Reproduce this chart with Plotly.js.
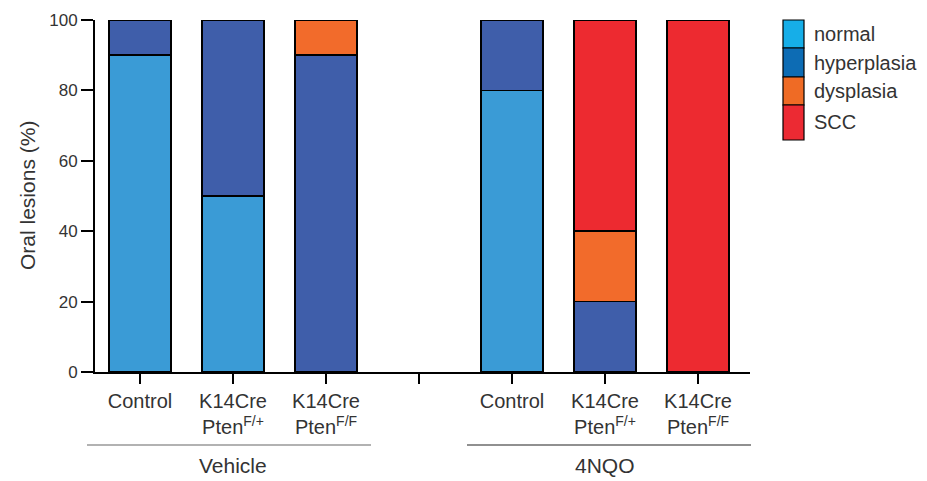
<!DOCTYPE html>
<html>
<head>
<meta charset="utf-8">
<script src="https://cdn.plot.ly/plotly-3.0.1.min.js"></script>
<style>html,body{margin:0;padding:0;background:#fff;}#chart{width:927px;height:481px;}</style>
</head>
<body>
<div id="chart"></div>
<script>
// categories (index 3 is the empty gap between the two groups)
const categories = ["v_ctrl", "v_het", "v_hom", "gap", "n_ctrl", "n_het", "n_hom"];
const tickLabels = ["Control", "K14Cre<br>Pten<sup>F/+</sup>", "K14Cre<br>Pten<sup>F/F</sup>", "",
                    "Control", "K14Cre<br>Pten<sup>F/+</sup>", "K14Cre<br>Pten<sup>F/F</sup>"];
const seriesNames = ["normal", "hyperplasia", "dysplasia", "SCC"];
const normal      = [90, 50, 0, null, 80, 0, 0];
const hyperplasia = [10, 50, 90, null, 20, 20, 0];
const dysplasia   = [0, 0, 10, null, 0, 20, 0];
const scc         = [0, 0, 0, null, 0, 60, 100];
const groupNames = ["Vehicle", "4NQO"];

const barColors = ["#3a9bd6", "#3f5eaa", "#f26b2b", "#ed2a30"];
const legendColors = ["#16aee8", "#0d6cb4", "#ef6b25", "#ec2a33"];
const values = [normal, hyperplasia, dysplasia, scc];

const font = "Arial, 'Liberation Sans', sans-serif";
const textColor = "#333333";

const traces = values.map((v, i) => ({
  type: "bar",
  name: seriesNames[i],
  x: categories,
  y: v,
  width: 0.665,
  marker: {color: barColors[i], line: {color: "#000", width: 1.5}},
  showlegend: false,
  hoverinfo: "name+y"
}));

const W = 655, H = 352;
const px = x => (x - 95) / W;
const py = y => (372 - y) / H;

const shapes = [];
const annotations = [];
// group underline + labels
shapes.push({type: "line", xref: "paper", yref: "paper", x0: px(87), x1: px(371), y0: py(445), y1: py(445),
             line: {color: "#999999", width: 1.5}});
shapes.push({type: "line", xref: "paper", yref: "paper", x0: px(467), x1: px(751), y0: py(445), y1: py(445),
             line: {color: "#222222", width: 1.2}});
annotations.push({xref: "x", yref: "paper", x: 1, y: py(465), text: groupNames[0], showarrow: false,
                  font: {family: font, size: 21, color: textColor}, yanchor: "middle"});
annotations.push({xref: "x", yref: "paper", x: 5, y: py(465), text: groupNames[1], showarrow: false,
                  font: {family: font, size: 21, color: textColor}, yanchor: "middle"});
// y title
annotations.push({xref: "paper", yref: "paper", x: px(27), y: py(196), text: "Oral lesions (%)",
                  textangle: -90, showarrow: false, font: {family: font, size: 21, color: textColor},
                  xanchor: "center", yanchor: "middle"});
// custom legend (paper coords)
const boxTops = [20, 48, 77, 105, 140];
seriesNames.forEach((n, i) => {
  shapes.push({type: "rect", xref: "paper", yref: "paper",
               x0: px(783), x1: px(804), y0: py(boxTops[i]), y1: py(boxTops[i + 1]),
               fillcolor: legendColors[i], line: {color: "#000", width: 1.2}});
  annotations.push({xref: "paper", yref: "paper", x: px(812), y: py((boxTops[i] + boxTops[i + 1]) / 2),
                    text: n, showarrow: false, xanchor: "left", yanchor: "middle",
                    font: {family: font, size: 20, color: textColor}});
});

const layout = {
  width: 927, height: 481,
  margin: {l: 95, r: 177, t: 20, b: 109},
  paper_bgcolor: "#fff", plot_bgcolor: "#fff",
  barmode: "stack",
  showlegend: false,
  font: {family: font, color: textColor, size: 20},
  xaxis: {
    type: "category", categoryorder: "array", categoryarray: categories,
    tickvals: categories, ticktext: tickLabels,
    range: [-0.484, 6.559],
    showline: true, linecolor: "#000", linewidth: 2,
    ticks: "outside", ticklen: 10, tickwidth: 2, tickcolor: "#000",
    showgrid: false, zeroline: false,
    tickfont: {family: font, size: 20, color: textColor}
  },
  yaxis: {
    range: [0, 100], tickvals: [0, 20, 40, 60, 80, 100],
    showline: true, linecolor: "#000", linewidth: 2,
    ticks: "outside", ticklen: 12, tickwidth: 2, tickcolor: "#000",
    showgrid: false, zeroline: false,
    tickfont: {family: font, size: 17, color: textColor}
  },
  shapes: shapes,
  annotations: annotations
};

Plotly.newPlot("chart", traces, layout, {displayModeBar: false, staticPlot: true});
</script>
</body>
</html>
